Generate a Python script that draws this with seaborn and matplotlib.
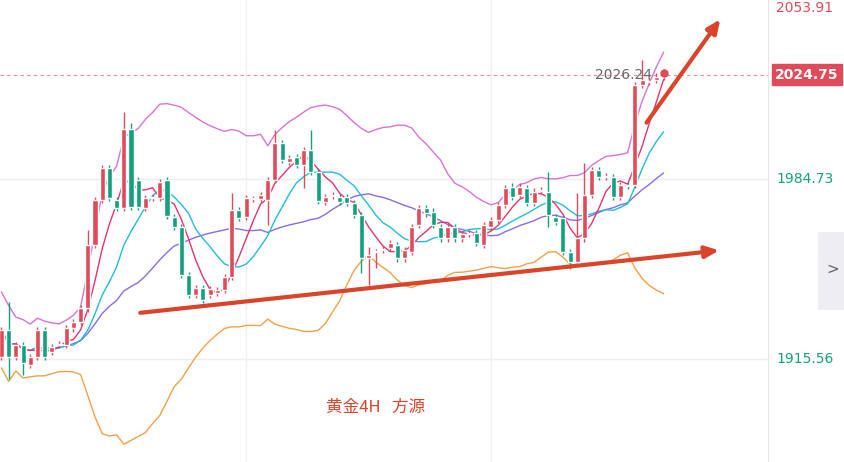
import numpy as np
import pandas as pd
import matplotlib
matplotlib.use("Agg")
import matplotlib.pyplot as plt
from matplotlib import font_manager
import seaborn as sns

# candle data (4H gold)
opens = [1916.4, 1926.7, 1916.4, 1920.9, 1913.2, 1916.4, 1926.7, 1918.4, 1920.9, 1920.9,
         1927.3, 1929.9, 1935.0, 1959.4, 1976.7, 1988.8, 1976.7, 1973.5, 2003.8, 1984.3,
         1973.5, 1977.3, 1977.3, 1984.3, 1970.2, 1966.4, 1947.8, 1940.1, 1942.7, 1940.1,
         1940.8, 1942.1, 1947.2, 1972.8, 1970.0, 1976.9, 1976.9, 1976.7, 1984.3, 1998.4,
         1991.4, 1993.3, 1990.1, 1995.9, 1987.5, 1975.8, 1978.2, 1977.9, 1977.9, 1975.4,
         1970.9, 1954.2, 1956.6, 1957.4, 1958.1, 1959.4, 1954.2, 1956.8, 1967.0, 1973.5,
         1972.2, 1966.4, 1961.9, 1966.4, 1961.9, 1963.7, 1963.9, 1959.4, 1966.4, 1969.0,
         1974.7, 1981.8, 1978.6, 1981.2, 1975.4, 1980.1, 1979.9, 1970.2, 1969.6, 1956.8,
         1952.9, 1961.9, 1978.6, 1988.2, 1985.5, 1985.6, 1977.9, 1982.2, 1982.4, 2020.9,
         2022.1, 2022.8, 2024.1]
closes = [1926.7, 1916.4, 1920.9, 1913.9, 1916.4, 1926.7, 1916.4, 1920.3, 1921.3, 1927.3,
          1929.9, 1935.0, 1959.4, 1976.7, 1988.8, 1977.3, 1973.5, 2003.8, 1974.1, 1974.1,
          1977.3, 1977.6, 1983.7, 1970.5, 1966.4, 1947.8, 1940.1, 1942.7, 1938.2, 1942.3,
          1942.1, 1947.2, 1972.8, 1969.6, 1977.3, 1977.1, 1978.6, 1984.3, 1998.4, 1992.0,
          1992.7, 1990.1, 1995.9, 1987.5, 1976.4, 1977.9, 1978.4, 1976.0, 1975.4, 1970.9,
          1954.2, 1955.5, 1956.8, 1957.6, 1960.0, 1954.2, 1957.4, 1966.4, 1973.5, 1971.5,
          1967.0, 1961.9, 1966.4, 1961.9, 1963.6, 1963.9, 1960.0, 1967.0, 1969.0, 1974.7,
          1981.2, 1977.9, 1981.8, 1975.4, 1979.9, 1980.3, 1970.9, 1968.3, 1956.8, 1952.9,
          1961.9, 1978.6, 1988.2, 1985.6, 1985.7, 1977.9, 1982.4, 1982.0, 2020.9, 2022.8,
          2022.3, 2024.1, 2024.75]
# notable wicks (index -> high / low), others get a short default wick
wick_highs = {1: 1937.6, 12: 1965.1, 17: 2010.6, 18: 2006.4, 32: 1979.3, 38: 2003.6,
              43: 2003.6, 51: 1958.7, 76: 1987.5, 80: 1979.3, 81: 1990.9, 89: 2030.5,
              92: 2027.0}
wick_lows = {1: 1908.0, 3: 1909.5, 37: 1967.0, 42: 1981.3, 50: 1948.6, 51: 1944.0,
             52: 1950.5, 76: 1966.4, 79: 1950.0}

price_ticks = [2053.91, 1984.73, 1915.56]
last_price = 2024.75
label_text = "黄金4H   方源"

UP = "#e04b5a"
DOWN = "#12a07e"
ARROW = "#d9442a"

# pick an installed CJK font
cjk_font = "DejaVu Sans"
installed = {f.name for f in font_manager.fontManager.ttflist}
for name in ["Noto Sans CJK SC", "Noto Sans CJK JP", "Noto Sans CJK TC", "Noto Sans CJK KR",
             "Noto Sans SC"]:
    if name in installed:
        cjk_font = name
        break

df = pd.DataFrame({"open": opens, "close": closes})
df["idx"] = np.arange(len(df))
df["high"] = [wick_highs.get(i, max(o, c) + 1.2) for i, (o, c) in enumerate(zip(opens, closes))]
df["low"] = [wick_lows.get(i, min(o, c) - 1.2) for i, (o, c) in enumerate(zip(opens, closes))]
df["ma5"] = df["close"].rolling(5, min_periods=1).mean()
df["ma10"] = df["close"].rolling(10, min_periods=1).mean()
df["mid"] = df["close"].rolling(20, min_periods=1).mean()
sd = df["close"].rolling(20, min_periods=2).std().bfill()
df["upper"] = df["mid"] + 2 * sd
df["lower"] = df["mid"] - 2 * sd

sns.set_style("white")
fig = plt.figure(figsize=(8.44, 4.62), dpi=100)
ax = fig.add_axes([0, 0, 768 / 844, 1])

ax.axhline(1984.73, color="#eeeeee", lw=1, zorder=0)
ax.axhline(1915.56, color="#eeeeee", lw=1, zorder=0)
for gx in [34, 68]:
    ax.axvline(gx, color="#f0f0f0", lw=1, zorder=0)

lines = [("upper", "#d874d0"), ("lower", "#f5a04a"), ("mid", "#8c6be0"),
         ("ma10", "#22bcd8"), ("ma5", "#e8336d")]
for col, c in lines:
    sns.lineplot(data=df, x="idx", y=col, ax=ax, color=c, lw=1, zorder=2)

colors = [UP if c >= o else DOWN for o, c in zip(df["open"], df["close"])]
ax.vlines(df["idx"], df["low"], df["high"], colors=colors, lw=1, zorder=3)
body_lo = np.minimum(df["open"], df["close"])
body_h = np.maximum(np.abs(df["close"] - df["open"]), 0.4)
ax.bar(df["idx"], body_h, bottom=body_lo, width=0.7, color=colors, zorder=4)

# last price line and marker
ax.axhline(last_price, color="#f08a9a", lw=0.8, ls=(0, (3, 3)), zorder=1)
ax.plot(df["idx"].iloc[-1], last_price + 0.8, "o", color=UP, ms=5, zorder=5)
ax.text(df["idx"].iloc[-1] - 1.6, last_price, "2026.24", color="#666666", fontsize=10,
        ha="right", va="center", zorder=6)

# hand-drawn arrows
ax.annotate("", xy=(100.1, 1957.4), xytext=(18.9, 1933.2),
            arrowprops=dict(arrowstyle="-|>,head_length=0.8,head_width=0.35", color=ARROW, lw=3))
ax.annotate("", xy=(100.1, 2047.0), xytext=(89.4, 2005.5),
            arrowprops=dict(arrowstyle="-|>,head_length=0.8,head_width=0.35", color=ARROW, lw=3))

ax.text(52, 1897, label_text, color="#d9442a", fontsize=12, ha="center", va="center",
        fontfamily=cjk_font)

ax.set_xlim(-0.2, 106.5)
ax.set_ylim(1876.0, 2053.5)
ax.set_xticks([])
ax.set_yticks([])
ax.set_xlabel("")
ax.set_ylabel("")
for s in ax.spines.values():
    s.set_visible(False)
ax.spines["right"].set_visible(True)
ax.spines["right"].set_color("#e6e6e6")

# right price axis labels
def to_fig_y(p):
    return (p - 1876.0) / (2053.5 - 1876.0)

tick_colors = [UP, DOWN, DOWN]
for p, c in zip(price_ticks, tick_colors):
    fig.text(776 / 844, min(to_fig_y(p), 0.982), f"{p:.2f}", color=c, fontsize=10, va="center")
fig.text(775 / 844, to_fig_y(last_price), f"{last_price:.2f}", color="white", fontsize=10,
         va="center", fontweight="bold",
         bbox=dict(boxstyle="square,pad=0.25", fc=UP, ec=UP))
fig.patches.append(plt.Rectangle((818 / 844, 152 / 462), 26 / 844, 78 / 462,
                                 transform=fig.transFigure, fc="#eeeef2", ec="none"))
fig.text(826 / 844, 193 / 462, ">", color="#666666", fontsize=11, va="center")

fig.savefig("out.png", dpi=100)
